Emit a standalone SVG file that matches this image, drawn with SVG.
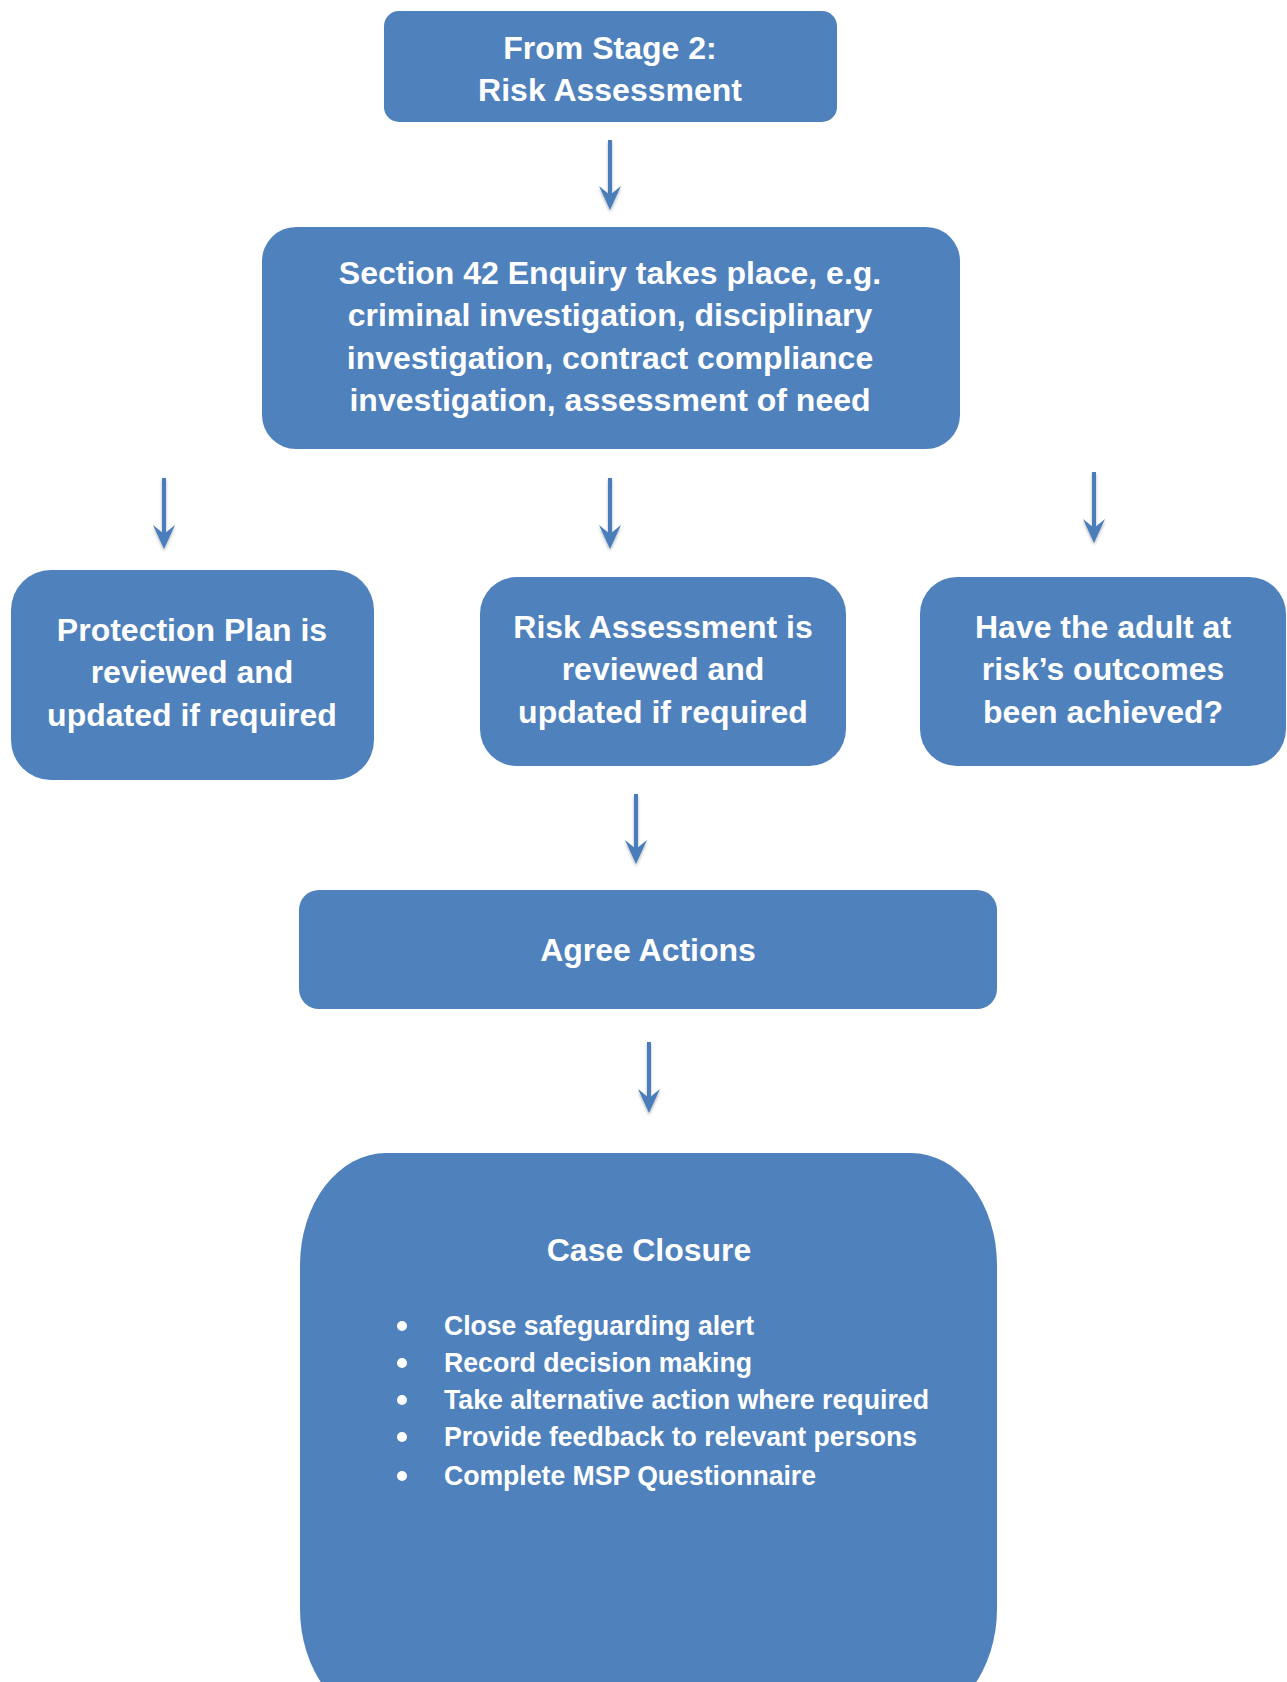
<svg xmlns="http://www.w3.org/2000/svg" width="1287" height="1682" viewBox="0 0 1287 1682">
<style>
.box{fill:#4F81BD;}
.t{fill:#FFFFFF;font-family:"Liberation Sans",Arial,sans-serif;font-weight:bold;font-size:32px;text-anchor:middle;}
.b{fill:#FFFFFF;font-family:"Liberation Sans",Arial,sans-serif;font-weight:bold;font-size:28px;}
.arrow{stroke:#4A7EBB;stroke-width:4;fill:none;marker-end:url(#ah);}
</style>
<defs>
<marker id="ah" viewBox="0 0 24 22" markerWidth="24" markerHeight="22" refX="16" refY="11" orient="auto" markerUnits="userSpaceOnUse">
<path d="M0,0 L24,11 L0,22 L9,11 Z" fill="#4A7EBB"/>
</marker>
<filter id="sh" x="-50%" y="-10%" width="200%" height="130%">
<feDropShadow dx="0" dy="2" stdDeviation="1.5" flood-color="#000" flood-opacity="0.3"/>
</filter>
</defs>
<rect width="1287" height="1682" fill="#FFFFFF"/>

<g id="connectors" filter="url(#sh)">
<line class="arrow" x1="610" y1="140" x2="610" y2="202"/>
<line class="arrow" x1="164" y1="478" x2="164" y2="541"/>
<line class="arrow" x1="610" y1="478" x2="610" y2="541"/>
<line class="arrow" x1="1094" y1="472" x2="1094" y2="535"/>
<line class="arrow" x1="636" y1="794" x2="636" y2="856"/>
<line class="arrow" x1="649" y1="1042" x2="649" y2="1105"/>
</g>

<g id="stage2">
<rect class="box" x="384" y="11" width="453" height="111" rx="15"/>
<text class="t" x="610" y="59">From Stage 2:</text>
<text class="t" x="610" y="101">Risk Assessment</text>
</g>

<g id="section42">
<rect class="box" x="262" y="227" width="698" height="222" rx="34"/>
<text class="t" x="610" y="284">Section 42 Enquiry takes place, e.g.</text>
<text class="t" x="610" y="326">criminal investigation, disciplinary</text>
<text class="t" x="610" y="369">investigation, contract compliance</text>
<text class="t" x="610" y="411">investigation, assessment of need</text>
</g>

<g id="protection">
<rect class="box" x="11" y="570" width="363" height="210" rx="40"/>
<text class="t" x="192" y="641">Protection Plan is</text>
<text class="t" x="192" y="683">reviewed and</text>
<text class="t" x="192" y="726">updated if required</text>
</g>

<g id="riskreview">
<rect class="box" x="480" y="577" width="366" height="189" rx="37"/>
<text class="t" x="663" y="638">Risk Assessment is</text>
<text class="t" x="663" y="680">reviewed and</text>
<text class="t" x="663" y="723">updated if required</text>
</g>

<g id="outcomes">
<rect class="box" x="920" y="577" width="366" height="189" rx="37"/>
<text class="t" x="1103" y="638">Have the adult at</text>
<text class="t" x="1103" y="680">risk’s outcomes</text>
<text class="t" x="1103" y="723">been achieved?</text>
</g>

<g id="agree">
<rect class="box" x="299" y="890" width="698" height="119" rx="20"/>
<text class="t" x="648" y="961">Agree Actions</text>
</g>

<g id="closure">
<rect class="box" x="300" y="1153" width="697" height="568" rx="86" ry="112"/>
<text class="t" x="649" y="1261">Case Closure</text>
<circle cx="402" cy="1326" r="5" fill="#FFFFFF"/>
<circle cx="402" cy="1363" r="5" fill="#FFFFFF"/>
<circle cx="402" cy="1400" r="5" fill="#FFFFFF"/>
<circle cx="402" cy="1437" r="5" fill="#FFFFFF"/>
<circle cx="402" cy="1476" r="5" fill="#FFFFFF"/>
<text class="b" x="444" y="1335" textLength="310" lengthAdjust="spacingAndGlyphs">Close safeguarding alert</text>
<text class="b" x="444" y="1372" textLength="308" lengthAdjust="spacingAndGlyphs">Record decision making</text>
<text class="b" x="444" y="1409" textLength="485" lengthAdjust="spacingAndGlyphs">Take alternative action where required</text>
<text class="b" x="444" y="1446" textLength="473" lengthAdjust="spacingAndGlyphs">Provide feedback to relevant persons</text>
<text class="b" x="444" y="1485" textLength="372" lengthAdjust="spacingAndGlyphs">Complete MSP Questionnaire</text>
</g>
</svg>
